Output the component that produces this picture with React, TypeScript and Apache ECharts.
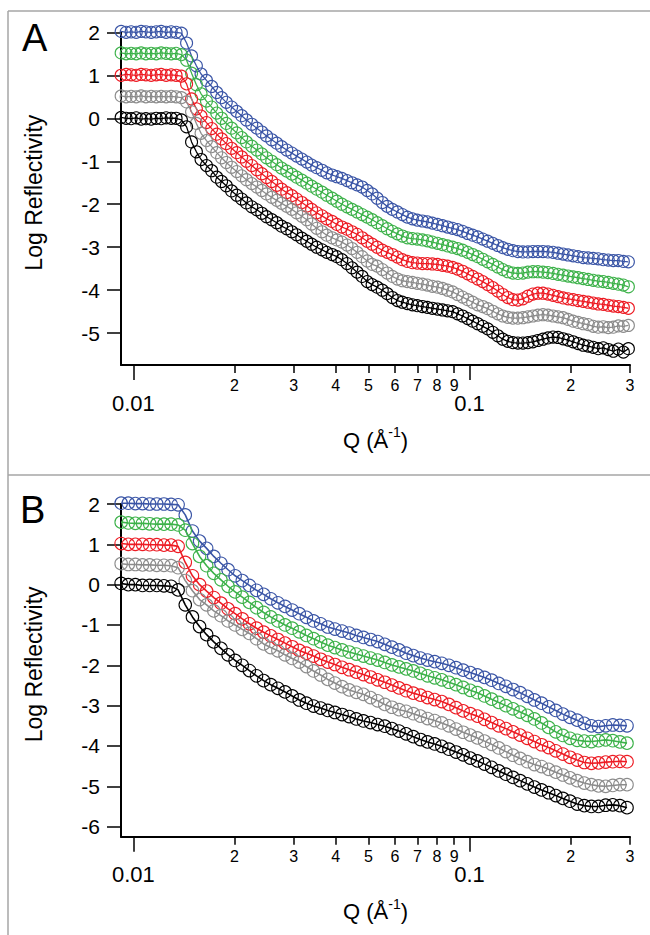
import React, { useEffect, useRef } from 'react';
import * as echarts from 'echarts';

// ---------- Panel A data ----------
const QA = [0.0092,0.00952,0.00985,0.0102,0.01055,0.0109,0.0113,0.0117,0.0121,0.01252,0.01296,0.0134,
0.0139,0.0144,0.0149,0.0154,0.0159,0.0165,0.0171,0.0177,0.0183,0.0189,
0.0196,0.0203,0.021,0.0217,0.0225,0.0233,0.0241,0.0249,0.0258,0.0267,
0.0276,0.0286,0.0296,0.0306,0.0317,0.0328,0.0339,0.0351,0.0364,0.0376,
0.039,0.0403,0.0417,0.0432,0.0447,0.0463,0.0479,0.0496,0.0513,0.0531,
0.055,0.0569,0.0589,0.061,0.0631,0.0653,0.0676,0.0699,0.0724,0.0749,
0.0775,0.0803,0.0831,0.086,0.089,0.0921,0.0953,0.0987,0.1021,0.1057,
0.1094,0.1132,0.1172,0.1213,0.1255,0.1299,0.1345,0.1392,0.1441,0.1491,
0.1543,0.1597,0.1653,0.1711,0.1771,0.1833,0.1897,0.1963,0.2032,0.2103,
0.2177,0.2253,0.2332,0.2414,0.2498,0.2586,0.2676,0.277,0.2867,0.2967];

const A_BLUE = [2.02,2.0,2.01,2.0,2.02,2.01,2.0,2.01,2.02,2.0,2.01,2.0,
1.98,1.75,1.45,1.22,1.03,0.88,0.74,0.6,0.48,0.37,
0.26,0.16,0.06,-0.04,-0.14,-0.23,-0.32,-0.41,-0.5,-0.58,
-0.66,-0.74,-0.81,-0.88,-0.95,-1.02,-1.09,-1.15,-1.21,-1.27,
-1.32,-1.36,-1.4,-1.45,-1.5,-1.55,-1.6,-1.68,-1.76,-1.86,
-1.96,-2.05,-2.12,-2.18,-2.24,-2.3,-2.34,-2.37,-2.39,-2.41,
-2.44,-2.47,-2.5,-2.53,-2.56,-2.59,-2.63,-2.68,-2.72,-2.76,
-2.81,-2.86,-2.91,-2.96,-3.01,-3.05,-3.08,-3.1,-3.11,-3.11,
-3.1,-3.1,-3.1,-3.11,-3.12,-3.14,-3.16,-3.18,-3.2,-3.22,
-3.24,-3.25,-3.26,-3.27,-3.29,-3.3,-3.31,-3.31,-3.33,-3.34];

const A_GREEN = [1.52,1.5,1.51,1.5,1.52,1.5,1.51,1.5,1.52,1.51,1.5,1.51,
1.48,1.35,1.05,0.78,0.57,0.4,0.26,0.12,0.0,-0.12,
-0.23,-0.34,-0.45,-0.55,-0.65,-0.74,-0.83,-0.92,-1.0,-1.08,
-1.16,-1.23,-1.3,-1.37,-1.44,-1.51,-1.58,-1.65,-1.72,-1.79,
-1.86,-1.93,-2.0,-2.06,-2.12,-2.18,-2.24,-2.3,-2.36,-2.43,
-2.5,-2.57,-2.63,-2.69,-2.74,-2.78,-2.8,-2.81,-2.83,-2.85,
-2.88,-2.91,-2.94,-2.97,-3.0,-3.03,-3.07,-3.12,-3.17,-3.22,
-3.28,-3.34,-3.4,-3.46,-3.52,-3.57,-3.6,-3.61,-3.6,-3.58,
-3.57,-3.57,-3.58,-3.59,-3.61,-3.63,-3.65,-3.67,-3.69,-3.71,
-3.73,-3.75,-3.77,-3.79,-3.8,-3.82,-3.84,-3.86,-3.88,-3.92];

const A_RED = [1.0,1.02,1.01,1.0,1.02,1.01,1.0,1.01,1.02,1.0,1.01,1.0,
0.98,0.8,0.45,0.22,0.05,-0.1,-0.24,-0.37,-0.48,-0.59,
-0.7,-0.8,-0.9,-1.0,-1.1,-1.2,-1.29,-1.38,-1.47,-1.56,
-1.65,-1.73,-1.8,-1.88,-1.96,-2.04,-2.12,-2.2,-2.27,-2.34,
-2.4,-2.47,-2.53,-2.58,-2.64,-2.7,-2.78,-2.86,-2.93,-3.0,
-3.07,-3.12,-3.17,-3.23,-3.29,-3.33,-3.36,-3.37,-3.38,-3.38,
-3.39,-3.4,-3.42,-3.44,-3.47,-3.51,-3.56,-3.62,-3.68,-3.74,
-3.8,-3.87,-3.94,-4.02,-4.1,-4.17,-4.22,-4.23,-4.2,-4.14,
-4.09,-4.07,-4.07,-4.09,-4.12,-4.15,-4.18,-4.2,-4.22,-4.24,
-4.26,-4.28,-4.3,-4.32,-4.33,-4.35,-4.37,-4.38,-4.4,-4.42];

const A_GRAY = [0.52,0.5,0.51,0.5,0.52,0.5,0.51,0.5,0.51,0.5,0.51,0.5,
0.48,0.38,0.15,-0.12,-0.35,-0.52,-0.66,-0.8,-0.92,-1.03,
-1.14,-1.24,-1.34,-1.43,-1.52,-1.6,-1.68,-1.76,-1.84,-1.91,
-1.98,-2.05,-2.12,-2.2,-2.28,-2.36,-2.46,-2.56,-2.64,-2.72,
-2.78,-2.83,-2.88,-2.95,-3.03,-3.12,-3.22,-3.32,-3.4,-3.44,
-3.52,-3.6,-3.68,-3.74,-3.78,-3.8,-3.82,-3.84,-3.86,-3.88,
-3.91,-3.93,-3.96,-4.0,-4.04,-4.1,-4.16,-4.22,-4.28,-4.34,
-4.38,-4.43,-4.49,-4.55,-4.6,-4.63,-4.65,-4.65,-4.64,-4.62,
-4.6,-4.58,-4.57,-4.58,-4.6,-4.62,-4.64,-4.68,-4.72,-4.75,
-4.78,-4.8,-4.84,-4.86,-4.85,-4.87,-4.86,-4.83,-4.84,-4.82];

const A_BLACK = [0.02,0.0,-0.01,0.01,-0.02,-0.01,-0.02,0.0,-0.01,0.01,0.0,0.0,
-0.04,-0.2,-0.55,-0.78,-0.96,-1.1,-1.22,-1.37,-1.47,-1.57,
-1.69,-1.79,-1.88,-1.97,-2.06,-2.13,-2.21,-2.29,-2.36,-2.43,
-2.51,-2.57,-2.64,-2.71,-2.79,-2.86,-2.93,-3.0,-3.06,-3.12,
-3.17,-3.22,-3.29,-3.38,-3.48,-3.58,-3.68,-3.8,-3.87,-3.93,
-4.0,-4.08,-4.17,-4.24,-4.28,-4.31,-4.34,-4.36,-4.38,-4.4,
-4.42,-4.44,-4.46,-4.48,-4.5,-4.55,-4.6,-4.66,-4.72,-4.78,
-4.84,-4.9,-4.98,-5.06,-5.14,-5.19,-5.22,-5.23,-5.23,-5.22,
-5.2,-5.17,-5.14,-5.11,-5.09,-5.1,-5.13,-5.16,-5.2,-5.24,
-5.28,-5.3,-5.33,-5.36,-5.34,-5.38,-5.42,-5.37,-5.44,-5.36];

// ---------- Panel B data ----------
const QB = [0.0092,0.00966,0.01014,0.01065,0.01118,0.01174,0.01233,0.01295,0.01359,0.01427,
0.01499,0.01574,0.01652,0.01735,0.01822,0.01913,0.02008,0.02109,0.02214,0.02325,
0.02441,0.02563,0.02691,0.02826,0.02967,0.03115,0.03271,0.03435,0.03606,0.03787,
0.03976,0.04175,0.04384,0.04603,0.04833,0.05075,0.05328,0.05595,0.05875,0.06168,
0.06477,0.06801,0.07141,0.07498,0.07873,0.08266,0.0868,0.09114,0.09569,0.10048,
0.1055,0.11078,0.11632,0.12213,0.12824,0.13465,0.14138,0.14845,0.15588,0.16367,
0.17185,0.18045,0.18947,0.19894,0.20889,0.21934,0.2303,0.24182,0.25391,0.2666,
0.27993,0.29393];

const B_BLUE = [2.02,2.02,2.01,2.01,2.0,2.0,2.0,1.99,1.98,1.73,
1.33,1.08,0.9,0.7,0.53,0.37,0.22,0.1,-0.02,-0.14,
-0.24,-0.35,-0.45,-0.54,-0.63,-0.72,-0.81,-0.9,-0.97,-1.05,
-1.1,-1.15,-1.2,-1.26,-1.31,-1.36,-1.41,-1.48,-1.55,-1.62,
-1.7,-1.76,-1.82,-1.87,-1.91,-1.95,-2.0,-2.06,-2.12,-2.18,
-2.24,-2.3,-2.37,-2.45,-2.52,-2.6,-2.68,-2.77,-2.86,-2.94,
-3.03,-3.12,-3.21,-3.29,-3.36,-3.44,-3.5,-3.52,-3.5,-3.48,
-3.49,-3.5];

const B_GREEN = [1.55,1.53,1.52,1.52,1.51,1.5,1.5,1.5,1.48,1.35,
1.02,0.7,0.47,0.28,0.12,-0.04,-0.18,-0.31,-0.44,-0.57,
-0.69,-0.8,-0.9,-1.0,-1.08,-1.17,-1.26,-1.34,-1.42,-1.5,
-1.56,-1.62,-1.67,-1.72,-1.77,-1.82,-1.87,-1.93,-1.99,-2.04,
-2.09,-2.14,-2.2,-2.26,-2.31,-2.36,-2.42,-2.48,-2.55,-2.62,
-2.68,-2.76,-2.84,-2.92,-3.0,-3.08,-3.16,-3.24,-3.33,-3.43,
-3.54,-3.65,-3.74,-3.81,-3.86,-3.88,-3.89,-3.87,-3.85,-3.87,
-3.9,-3.93];

const B_RED = [1.02,1.0,1.0,1.0,0.99,0.99,0.98,0.98,0.95,0.55,
0.22,0.0,-0.16,-0.32,-0.46,-0.6,-0.72,-0.85,-0.97,-1.08,
-1.18,-1.27,-1.36,-1.45,-1.54,-1.63,-1.7,-1.77,-1.85,-1.92,
-1.98,-2.05,-2.11,-2.17,-2.23,-2.29,-2.36,-2.42,-2.49,-2.56,
-2.63,-2.69,-2.74,-2.8,-2.85,-2.9,-2.97,-3.05,-3.13,-3.2,
-3.26,-3.34,-3.42,-3.5,-3.57,-3.65,-3.73,-3.81,-3.89,-3.97,
-4.04,-4.12,-4.2,-4.28,-4.35,-4.41,-4.43,-4.42,-4.4,-4.39,
-4.38,-4.39];

const B_GRAY = [0.52,0.5,0.5,0.49,0.49,0.48,0.48,0.47,0.42,0.1,
-0.15,-0.37,-0.5,-0.65,-0.77,-0.9,-1.0,-1.11,-1.21,-1.34,
-1.47,-1.56,-1.64,-1.74,-1.83,-1.92,-2.03,-2.14,-2.24,-2.35,
-2.44,-2.53,-2.61,-2.67,-2.72,-2.8,-2.88,-2.97,-3.04,-3.1,
-3.14,-3.2,-3.26,-3.32,-3.37,-3.43,-3.5,-3.58,-3.66,-3.73,
-3.8,-3.88,-3.96,-4.05,-4.14,-4.23,-4.31,-4.39,-4.46,-4.51,
-4.58,-4.65,-4.72,-4.79,-4.86,-4.92,-4.96,-4.99,-5.0,-4.98,
-4.96,-4.96];

const B_BLACK = [0.03,0.0,0.0,-0.02,-0.02,-0.02,-0.03,-0.04,-0.13,-0.5,
-0.8,-1.04,-1.24,-1.42,-1.58,-1.74,-1.88,-2.0,-2.13,-2.26,
-2.38,-2.48,-2.57,-2.66,-2.76,-2.86,-2.94,-3.01,-3.06,-3.12,
-3.17,-3.22,-3.27,-3.33,-3.38,-3.42,-3.47,-3.51,-3.57,-3.63,
-3.7,-3.77,-3.84,-3.9,-3.95,-4.01,-4.08,-4.15,-4.22,-4.3,
-4.37,-4.45,-4.53,-4.62,-4.7,-4.78,-4.86,-4.94,-5.02,-5.09,
-5.16,-5.23,-5.3,-5.37,-5.44,-5.48,-5.5,-5.5,-5.47,-5.46,
-5.48,-5.53];

// ---------- axes ----------
const X_MIN = 0.00919;
const X_MAX = 0.3;
const Y_RANGE_A = [-5.74, 2];
const Y_RANGE_B = [-6.25, 2];
const X_MAJOR_TICKS = [0.01, 0.1];
const X_MAJOR_LABELS = ['0.01', '0.1'];
const X_MINOR_TICKS = [0.02, 0.03, 0.04, 0.05, 0.06, 0.07, 0.08, 0.09, 0.2, 0.3];
const X_MINOR_LABELS = ['2', '3', '4', '5', '6', '7', '8', '9', '2', '3'];
const Y_TICKS_A = [-5, -4, -3, -2, -1, 0, 1, 2];
const Y_TICKS_B = [-6, -5, -4, -3, -2, -1, 0, 1, 2];

const COLORS = ['#3a55a6', '#3db24a', '#ed1c24', '#8c8c8c', '#000000'];
const FONT = '"Liberation Sans", Arial, Helvetica, sans-serif';

function lookup(ticks: number[], labels: string[]) {
  return (v: number) => {
    let best = 0;
    let bd = Infinity;
    ticks.forEach((t, i) => {
      const d = Math.abs(Math.log(v) - Math.log(t));
      if (d < bd) { bd = d; best = i; }
    });
    return labels[best];
  };
}

function majorX(gridIndex: number) {
  return {
    type: 'log', gridIndex, min: X_MIN, max: X_MAX, logBase: 10, position: 'bottom',
    axisLine: { show: true, onZero: false, lineStyle: { color: '#000', width: 2 } },
    axisTick: { show: true, customValues: X_MAJOR_TICKS, length: 15, lineStyle: { color: '#000', width: 1.5 } },
    axisLabel: { show: true, customValues: X_MAJOR_TICKS, formatter: lookup(X_MAJOR_TICKS, X_MAJOR_LABELS), margin: 27, fontSize: 22, color: '#000', fontFamily: FONT },
    splitLine: { show: false }, minorTick: { show: false },
    name: '{q|Q (Å}{sup|-1}{q|)}', nameLocation: 'middle', nameGap: 60,
    nameTextStyle: {
      color: '#000', fontFamily: FONT, fontSize: 22,
      rich: {
        q: { fontSize: 22, lineHeight: 30, fontFamily: FONT, color: '#000' },
        sup: { fontSize: 14, lineHeight: 14, verticalAlign: 'top', fontFamily: FONT, color: '#000' },
      },
    },
  };
}

function minorX(gridIndex: number) {
  return {
    type: 'log', gridIndex, min: X_MIN, max: X_MAX, logBase: 10, position: 'bottom',
    axisLine: { show: false, onZero: false },
    axisTick: { show: true, customValues: X_MINOR_TICKS, length: 8, lineStyle: { color: '#000', width: 1.5 } },
    axisLabel: { show: true, customValues: X_MINOR_TICKS, formatter: lookup(X_MINOR_TICKS, X_MINOR_LABELS), margin: 12, fontSize: 16, color: '#000', fontFamily: FONT },
    splitLine: { show: false }, minorTick: { show: false },
  };
}

function yAx(gridIndex: number, range: number[], ticks: number[]) {
  return {
    type: 'value', gridIndex, min: range[0], max: range[1],
    axisLine: { show: true, onZero: false, lineStyle: { color: '#000', width: 2 } },
    axisTick: { show: true, customValues: ticks, length: 14, lineStyle: { color: '#000', width: 1.5 } },
    axisLabel: { show: true, customValues: ticks, margin: 21, fontSize: 21, color: '#000', fontFamily: FONT },
    splitLine: { show: false },
    name: 'Log Reflectivity', nameLocation: 'middle', nameGap: 76,
    nameTextStyle: { color: '#000', fontFamily: FONT, fontSize: 23, padding: [0, 0, 0, 12] },
  };
}

function mkSeries(q: number[], sets: number[][], xi: number, yi: number, size: number, lw: number) {
  return sets.map((ys, k) => ({
    type: 'line',
    xAxisIndex: xi,
    yAxisIndex: yi,
    data: q.map((x, i) => [x, ys[i]]),
    symbol: 'circle',
    symbolSize: size,
    showSymbol: true,
    clip: false,
    silent: true,
    color: COLORS[k],
    itemStyle: { color: 'rgba(255,255,255,0)', borderColor: COLORS[k], borderWidth: 1.1 },
    lineStyle: { color: COLORS[k], width: lw },
    emphasis: { disabled: true },
    z: 2 + k,
  }));
}

function buildOption() {
  const frame = { stroke: '#a6a6a6', lineWidth: 1.5 };
  return {
    animation: false,
    backgroundColor: '#fff',
    textStyle: { fontFamily: FONT },
    grid: [
      { left: 121, top: 32.3, width: 509, height: 332.7 },
      { left: 121, top: 504, width: 509, height: 332.7 },
    ],
    xAxis: [majorX(0), minorX(0), majorX(1), minorX(1)],
    yAxis: [yAx(0, Y_RANGE_A, Y_TICKS_A), yAx(1, Y_RANGE_B, Y_TICKS_B)],
    series: [
      ...mkSeries(QA, [A_BLUE, A_GREEN, A_RED, A_GRAY, A_BLACK], 0, 0, 12, 1.3),
      ...mkSeries(QB, [B_BLUE, B_GREEN, B_RED, B_GRAY, B_BLACK], 2, 1, 12.5, 1.6),
    ],
    graphic: [
      { type: 'line', silent: true, shape: { x1: 8, y1: 11, x2: 650, y2: 11 }, style: frame },
      { type: 'line', silent: true, shape: { x1: 8, y1: 11, x2: 8, y2: 935 }, style: frame },
      { type: 'line', silent: true, shape: { x1: 8, y1: 475, x2: 650, y2: 475 }, style: frame },
      { type: 'text', silent: true, x: 22, y: 38, style: { text: 'A', fontSize: 38, fontFamily: FONT, fill: '#000', align: 'left', verticalAlign: 'middle' } },
      { type: 'text', silent: true, x: 20, y: 510, style: { text: 'B', fontSize: 38, fontFamily: FONT, fill: '#000', align: 'left', verticalAlign: 'middle' } },
    ],
  };
}

export default function App() {
  const ref = useRef<HTMLDivElement>(null);
  useEffect(() => {
    const chart = echarts.init(ref.current as HTMLDivElement, null, { renderer: 'svg' });
    chart.setOption(buildOption() as any);
    return () => chart.dispose();
  }, []);
  return (
    <div
      ref={ref}
      style={{ position: 'absolute', left: 0, top: 0, width: 650, height: 935, background: '#fff' }}
    />
  );
}
